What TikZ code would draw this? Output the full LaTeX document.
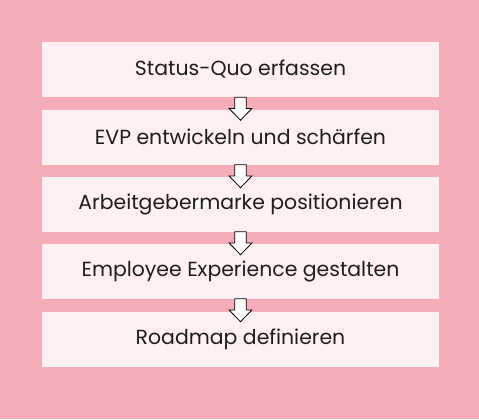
\documentclass[tikz,border=0pt]{standalone}
\usepackage{fontspec}
\setmainfont{Poppins}
\definecolor{bgpink}{RGB}{245,174,185}
\definecolor{boxpink}{RGB}{255,240,241}
\definecolor{textdark}{RGB}{30,30,30}
\tikzset{
  stepbox/.style={fill=boxpink, minimum width=397bp, minimum height=55bp,
    inner sep=0pt, text=textdark, font=\fontsize{20.5}{24}\selectfont},
  downarrow/.style={draw=black, fill=white, line width=0.8bp, line join=miter}
}
\begin{document}
\begin{tikzpicture}[x=1bp,y=-1bp]
\fill[bgpink] (0,0) rectangle (479,419); % hintergrund
\useasboundingbox (0,0) rectangle (479,419);
\node[stepbox] (s1) at (240.5,69.5) {Status-Quo erfassen};
\node[stepbox] (s2) at (240.5,137) {EVP entwickeln und schärfen};
\node[stepbox] (s3) at (240.5,204) {Arbeitgebermarke positionieren};
\node[stepbox] (s4) at (240.5,271) {Employee Experience gestalten};
\node[stepbox] (s5) at (240.5,339) {Roadmap definieren};
% pfeile zwischen den schritten
\foreach \i in {1,...,4}{
  \draw[downarrow, shift={(s\i.south)}] (-5.7,0) -- (-5.7,11.3) -- (-11.4,11.3)
    -- (0,23) -- (11.4,11.3) -- (5.7,11.3) -- (5.7,0) -- cycle;
}
\end{tikzpicture}
\end{document}
